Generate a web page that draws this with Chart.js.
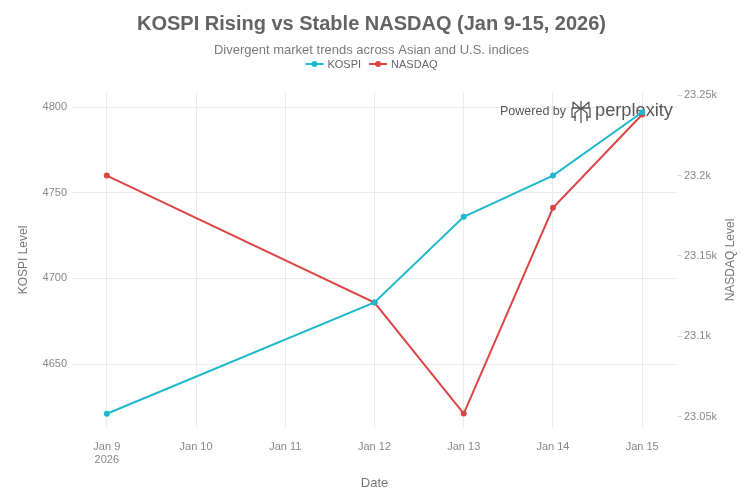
<!DOCTYPE html>
<html>
<head>
<meta charset="utf-8">
<script src="https://cdn.jsdelivr.net/npm/chart.js@4.4.1/dist/chart.umd.min.js"></script>
<style>
html,body{margin:0;padding:0;background:#fff;}
#wrap{width:743px;height:495px;position:relative;}
</style>
</head>
<body>
<div id="wrap"><canvas id="c" width="743" height="495"></canvas></div>
<script>
// ---- data ----
const dates = ['2026-01-09', '2026-01-12', '2026-01-13', '2026-01-14', '2026-01-15'];
const kospi = [4621, 4686, 4736, 4760, 4797];
const nasdaq = [23200, 23121, 23052, 23180, 23238];
const xTickDays = [9, 10, 11, 12, 13, 14, 15];
const xTickLabels = ['Jan 9', 'Jan 10', 'Jan 11', 'Jan 12', 'Jan 13', 'Jan 14', 'Jan 15'];
const yearLabel = '2026';
const kospiTicks = [4650, 4700, 4750, 4800];
const nasdaqTicks = [23050, 23100, 23150, 23200, 23250];
const titleText = 'KOSPI Rising vs Stable NASDAQ (Jan 9-15, 2026)';
const subtitleText = 'Divergent market trends across Asian and U.S. indices';

const dayNum = d => new Date(d + 'T00:00:00Z').getUTCDate();
const toPts = vals => dates.map((d, i) => ({x: dayNum(d), y: vals[i]}));

const C_KOSPI = '#1FB8CD';
const C_NASDAQ = '#DB4545';
const FONT = "'Liberation Sans', Arial, sans-serif";

function fitText(ctx, text, weight, baseSize, targetW) {
  ctx.font = weight + ' ' + baseSize + 'px ' + FONT;
  const w = ctx.measureText(text).width;
  const size = baseSize * targetW / w;
  ctx.font = weight + ' ' + size.toFixed(2) + 'px ' + FONT;
}

const decor = {
  id: 'decor',
  beforeDatasetsDraw(chart) {
    const ctx = chart.ctx;
    ctx.save();
    // watermark
    ctx.fillStyle = '#575757';
    ctx.textBaseline = 'middle';
    ctx.textAlign = 'left';
    fitText(ctx, 'Powered by', 'normal', 14, 66);
    ctx.fillText('Powered by', 500, 112);
    // simple logo
    ctx.strokeStyle = '#575757';
    ctx.lineWidth = 1.3;
    const lx = 581, ly = 112;
    ctx.beginPath();
    ctx.moveTo(lx, ly - 11); ctx.lineTo(lx, ly + 11);
    ctx.moveTo(lx - 8, ly - 10); ctx.lineTo(lx, ly - 3); ctx.lineTo(lx + 8, ly - 10);
    ctx.moveTo(lx - 8, ly - 10); ctx.lineTo(lx - 8, ly - 4);
    ctx.moveTo(lx + 8, ly - 10); ctx.lineTo(lx + 8, ly - 4);
    ctx.moveTo(lx - 9, ly - 4); ctx.lineTo(lx + 9, ly - 4);
    ctx.moveTo(lx - 9, ly - 4); ctx.lineTo(lx - 9, ly + 5); ctx.lineTo(lx - 5, ly + 5);
    ctx.moveTo(lx + 9, ly - 4); ctx.lineTo(lx + 9, ly + 5); ctx.lineTo(lx + 5, ly + 5);
    ctx.moveTo(lx - 6, ly + 9); ctx.lineTo(lx - 6, ly + 1); ctx.lineTo(lx, ly - 4); ctx.lineTo(lx + 6, ly + 1); ctx.lineTo(lx + 6, ly + 9);
    ctx.stroke();
    fitText(ctx, 'perplexity', 'normal', 20, 78);
    ctx.fillText('perplexity', 595, 111);
    ctx.restore();
  },
  afterDraw(chart) {
    const ctx = chart.ctx;
    const W = chart.width;
    ctx.save();
    ctx.textAlign = 'center';
    ctx.textBaseline = 'middle';
    ctx.fillStyle = '#636363';
    ctx.font = 'bold 20px ' + FONT;
    ctx.fillText(titleText, W / 2, 24);
    ctx.fillStyle = '#7a7a7a';
    ctx.font = '13px ' + FONT;
    ctx.fillText(subtitleText, W / 2, 50);
    // legend
    ctx.font = '11px ' + FONT;
    const items = chart.data.datasets.map(ds => ({label: ds.label, color: ds.borderColor}));
    const sym = 18, gap = 4, itemGap = 8;
    const widths = items.map(it => sym + gap + ctx.measureText(it.label).width);
    const total = widths.reduce((a, b) => a + b, 0) + itemGap * (items.length - 1);
    let x = W / 2 - total / 2;
    const y = 64;
    ctx.textAlign = 'left';
    items.forEach((it, i) => {
      ctx.strokeStyle = it.color;
      ctx.lineWidth = 2;
      ctx.beginPath(); ctx.moveTo(x, y); ctx.lineTo(x + sym, y); ctx.stroke();
      ctx.fillStyle = it.color;
      ctx.beginPath(); ctx.arc(x + sym / 2, y, 3, 0, Math.PI * 2); ctx.fill();
      ctx.fillStyle = '#666666';
      ctx.fillText(it.label, x + sym + gap, y + 0.5);
      x += widths[i] + itemGap;
    });
    // right axis title
    const a = chart.chartArea;
    ctx.save();
    ctx.translate(731, (a.top + a.bottom) / 2);
    ctx.rotate(-Math.PI / 2);
    ctx.textAlign = 'center';
    ctx.fillStyle = '#777777';
    ctx.font = '12px ' + FONT;
    ctx.fillText('NASDAQ Level', 0, 0);
    ctx.restore();
    ctx.restore();
  }
};

new Chart(document.getElementById('c'), {
  type: 'line',
  data: {
    datasets: [
      {label: 'KOSPI', data: toPts(kospi), yAxisID: 'y', borderColor: C_KOSPI, backgroundColor: C_KOSPI,
       borderWidth: 2, pointRadius: 3, pointHoverRadius: 3, pointBorderWidth: 0, tension: 0},
      {label: 'NASDAQ', data: toPts(nasdaq), yAxisID: 'y1', borderColor: C_NASDAQ, backgroundColor: C_NASDAQ,
       borderWidth: 2, pointRadius: 3, pointHoverRadius: 3, pointBorderWidth: 0, tension: 0}
    ]
  },
  options: {
    responsive: false,
    animation: false,
    devicePixelRatio: 1,
    layout: {padding: {top: 92, left: 0, right: 0, bottom: 0}},
    plugins: {legend: {display: false}, title: {display: false}, tooltip: {enabled: false}},
    scales: {
      x: {
        type: 'linear', min: 8.61, max: 15.39,
        afterBuildTicks: s => { s.ticks = xTickDays.map(v => ({value: v})); },
        afterFit: s => { s.height = 67; },
        grid: {color: '#ebebeb', drawTicks: false},
        border: {display: false},
        ticks: {
          padding: 12, color: '#888888', font: {family: FONT, size: 11}, maxRotation: 0, autoSkip: false,
          callback: (v, i) => i === 0 ? [xTickLabels[i], yearLabel] : xTickLabels[xTickDays.indexOf(v)]
        },
        title: {display: true, text: 'Date', color: '#777777', font: {family: FONT, size: 13}, padding: {top: 0, bottom: 4}}
      },
      y: {
        position: 'left', min: 4612.7, max: 4808.8,
        afterBuildTicks: s => { s.ticks = kospiTicks.map(v => ({value: v})); },
        afterFit: s => { s.width = 72; },
        grid: {color: '#ebebeb', drawTicks: false},
        border: {display: false},
        ticks: {padding: 5, color: '#888888', font: {family: FONT, size: 11}, callback: v => String(v)},
        title: {display: true, text: 'KOSPI Level', color: '#777777', font: {family: FONT, size: 12}, padding: {top: 16, bottom: 0}}
      },
      y1: {
        position: 'right', min: 23043, max: 23252,
        afterBuildTicks: s => { s.ticks = nasdaqTicks.map(v => ({value: v})); },
        afterFit: s => { s.width = 66; },
        grid: {drawOnChartArea: false, drawTicks: true, tickLength: 5, color: '#dddddd'},
        border: {display: false},
        ticks: {padding: 2, color: '#888888', font: {family: FONT, size: 11},
          callback: v => (v / 1000) + 'k'}
      }
    }
  },
  plugins: [decor]
});
</script>
</body>
</html>
